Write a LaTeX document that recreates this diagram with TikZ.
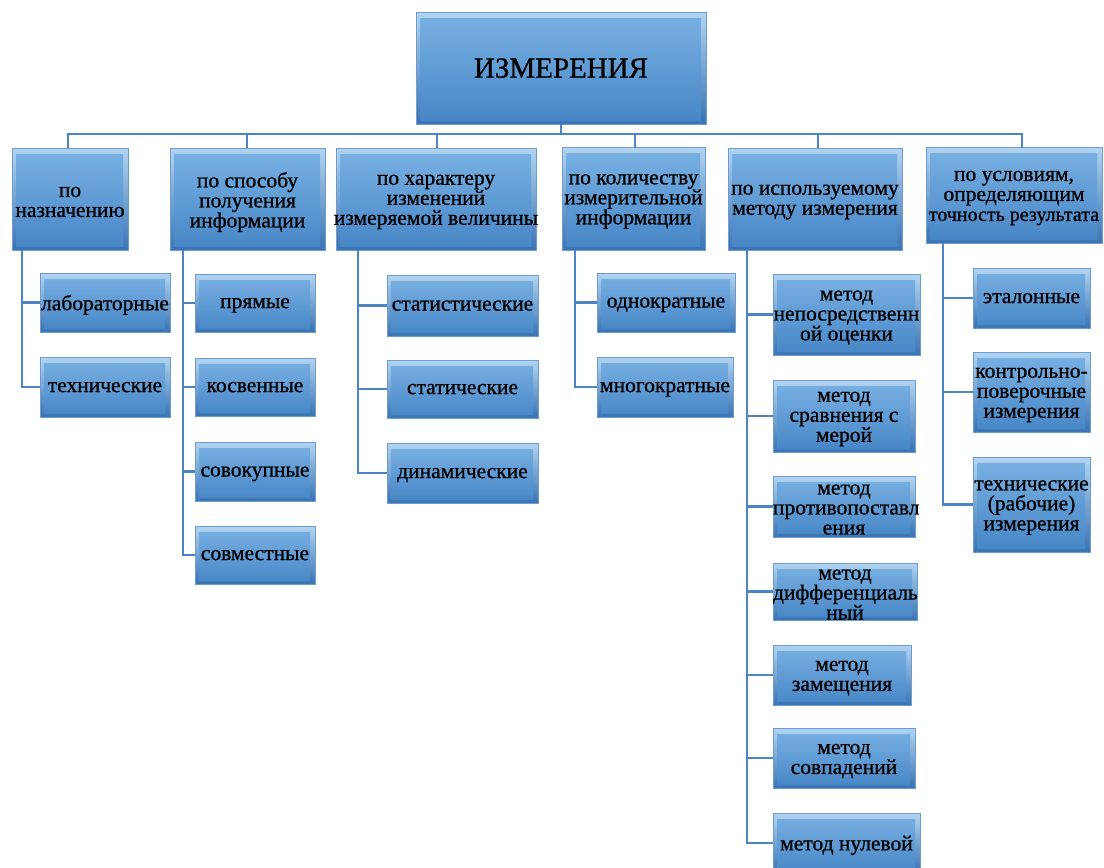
\documentclass[tikz,border=0pt]{standalone}
\usepackage{fontspec}
\setmainfont{Liberation Serif}
\newfontfamily\bxf[FakeBold=0.9]{Liberation Serif}
\newcommand\boxfontset{\bxf\fontsize{21.5}{20}\selectfont\lineskiplimit=-50pt\relax\lineskip=0pt\relax}
\newcommand\boxtail{\par\vspace{-6pt}}
\definecolor{bl1}{HTML}{B2D4F1}
\definecolor{bl2}{HTML}{7AB2E3}
\definecolor{bl3}{HTML}{4685C6}
\definecolor{bl4}{HTML}{3A74B4}
\definecolor{lnc}{HTML}{4C84C4}
\begin{document}
\begin{tikzpicture}[x=1pt,y=-1pt,
  box/.style={rectangle, inner sep=0pt, align=flush center,
    top color=bl1, bottom color=bl4, draw=bl3!80!white, line width=0.5pt,
    font=\boxfontset, execute at end node=\boxtail,
    path picture={\fill[top color=bl2, bottom color=bl3]
      ([shift={(4pt,-6pt)}]path picture bounding box.north west) rectangle
      ([shift={(-5pt,4pt)}]path picture bounding box.south east);}},
  conn/.style={draw=lnc, line width=2.2pt}]
\useasboundingbox (0,0) rectangle (1104,868);
% root
\node[box, text width=290, minimum height=112, execute at end node={}, font=\bxf\fontsize{29}{32}\selectfont] (top) at (561,68) {ИЗМЕРЕНИЯ};
% categories
\node[box, text width=116, minimum height=102] (c1) at (70,199) {по\\назначению};
\node[box, text width=155, minimum height=102] (c2) at (247.5,199) {по способу\\получения\\информации};
\node[box, text width=200, minimum height=102] (c3) at (436,199) {по характеру\\изменений\\\makebox[\linewidth]{измеряемой величины}};
\node[box, text width=143, minimum height=103] (c4) at (633.5,198.5) {по количеству\\измерительной\\информации};
\node[box, text width=174, minimum height=102] (c5) at (815,199) {по используемому\\методу измерения};
\node[box, text width=176, minimum height=96] (c6) at (1014,195) {по условиям,\\определяющим\\\makebox[\linewidth]{\fontsize{20}{20}\selectfont точность результата}};
% column 1
\node[box, text width=130, minimum height=59] (a1) at (105,302.5) {лабораторные};
\node[box, text width=130, minimum height=60] (a2) at (105,387) {технические};
% column 2
\node[box, text width=120, minimum height=58] (b1) at (255,303) {прямые};
\node[box, text width=120, minimum height=58] (b2) at (255,387) {косвенные};
\node[box, text width=120, minimum height=59] (b3) at (255,471.5) {совокупные};
\node[box, text width=120, minimum height=58] (b4) at (255,555) {совместные};
% column 3
\node[box, text width=151, minimum height=61] (d1) at (462.5,305.5) {статистические};
\node[box, text width=151, minimum height=58] (d2) at (462.5,389) {статические};
\node[box, text width=151, minimum height=60] (d3) at (462.5,473) {динамические};
% column 4
\node[box, text width=138, minimum height=59] (e1) at (666,302.5) {однократные};
\node[box, text width=136, minimum height=60] (e2) at (665,387) {многократные};
% column 5
\node[box, text width=147, minimum height=81] (f1) at (846.5,314.5) {метод\\непосредственн\\ой оценки};
\node[box, text width=142, minimum height=72] (f2) at (844,416) {метод\\сравнения с\\мерой};
\node[box, text width=142, minimum height=61] (f3) at (844,506.5) {метод\\противопоставл\\ения};
\node[box, text width=144, minimum height=57] (f4) at (845,591.5) {метод\\дифференциаль\\ный};
\node[box, text width=138, minimum height=60] (f5) at (842,675) {метод\\замещения};
\node[box, text width=142, minimum height=60] (f6) at (844,758) {метод\\совпадений};
\node[box, text width=147, minimum height=60] (f7) at (846.5,843) {метод нулевой};
% column 6
\node[box, text width=117, minimum height=60] (g1) at (1031.5,298) {эталонные};
\node[box, text width=117, minimum height=80] (g2) at (1031.5,392) {контрольно-\\поверочные\\измерения};
\node[box, text width=117, minimum height=95] (g3) at (1031.5,504.5) {технические\\(рабочие)\\измерения};
% bus coordinates
\coordinate (bus) at (0,134);
\coordinate (k1) at (22,250);
\coordinate (k2) at (183,250);
\coordinate (k3) at (358,250);
\coordinate (k4) at (575,250);
\coordinate (k5) at (747,250);
\coordinate (k6) at (943,243);
\coordinate (t1) at (68,148);
\coordinate (t2) at (247,148);
\coordinate (t3) at (437,148);
\coordinate (t4) at (635,148);
\coordinate (t5) at (818,148);
\coordinate (t6) at (1022,148);
% connectors root -> categories
\draw[conn] (top.south) -- (top.south |- bus);
\foreach \t in {t1,t2,t3,t4,t5,t6}{\draw[conn] (top.south |- bus) -| (\t);}
% children
\foreach \n in {a1,a2}{\draw[conn] (k1) |- (\n.west);}
\foreach \n in {b1,b2,b3,b4}{\draw[conn] (k2) |- (\n.west);}
\foreach \n in {d1,d2,d3}{\draw[conn] (k3) |- (\n.west);}
\foreach \n in {e1,e2}{\draw[conn] (k4) |- (\n.west);}
\foreach \n in {f1,f2,f3,f4,f5,f6,f7}{\draw[conn] (k5) |- (\n.west);}
\foreach \n in {g1,g2,g3}{\draw[conn] (k6) |- (\n.west);}
\end{tikzpicture}
\end{document}
